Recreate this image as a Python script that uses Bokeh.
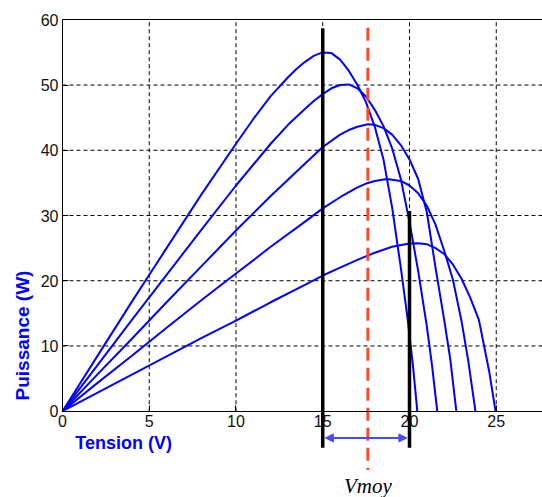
from bokeh.plotting import figure
from bokeh.models import Range1d, FixedTicker, LinearAxis, Label, Arrow, NormalHead
from bokeh.embed import file_html
from bokeh.resources import INLINE

# ---- data ----
x_ticks = [0, 5, 10, 15, 20, 25]
y_ticks = [0, 10, 20, 30, 40, 50, 60]

A_v = [0, 2, 4, 6, 8, 10, 11, 12, 13, 13.5, 14, 14.5, 15, 15.5, 16, 16.5, 17, 17.5, 18, 18.5, 19, 19.5, 19.9, 20.2, 20.45]
A_p = [0, 8.4, 16.8, 25, 33.2, 41, 44.8, 48.3, 51.2, 52.5, 53.6, 54.5, 55, 54.9, 53.9, 52.2, 50, 47.3, 43.6, 38.6, 31.2, 22, 14, 7, 0]

B_v = [0, 2, 4, 6, 8, 10, 12, 13, 14, 14.5, 15, 15.5, 16, 16.5, 17, 17.5, 18, 18.5, 19, 19.5, 20, 20.5, 21, 21.3, 21.6]
B_p = [0, 7, 14, 20.9, 27.8, 34.6, 41, 43.9, 46.4, 47.6, 48.6, 49.5, 50, 50.1, 49.5, 48.2, 46.2, 43.7, 40.3, 35.6, 29, 21.5, 13, 7, 0]

C_v = [0, 2, 4, 6, 8, 10, 12, 14, 15, 16, 16.5, 17, 17.6, 18, 18.5, 19, 19.5, 20, 20.5, 21, 21.5, 22, 22.35, 22.7]
C_p = [0, 5.6, 11.1, 16.7, 22.2, 27.7, 33, 38, 40.5, 42.4, 43.1, 43.6, 44, 43.9, 43.4, 42.4, 40.8, 38.6, 35.6, 30.5, 22, 14, 8, 0]

D_v = [0, 2, 4, 6, 8, 10, 12, 14, 15, 16, 17, 17.5, 18, 18.7, 19.5, 20, 20.5, 21, 21.5, 22, 22.5, 23, 23.4, 23.8]
D_p = [0, 4.3, 8.5, 12.8, 17, 21.1, 25.2, 29.1, 31.1, 32.8, 34.3, 34.9, 35.3, 35.6, 35.3, 34.6, 33.4, 31.5, 28.6, 24.6, 20.2, 13.8, 7.5, 0]

E_v = [0, 2, 4, 6, 8, 10, 12, 14, 15, 16, 17, 18, 19, 20, 20.5, 21, 21.5, 22, 22.5, 23, 23.5, 24, 24.3, 24.6, 24.96]
E_p = [0, 2.8, 5.6, 8.4, 11.2, 13.9, 16.7, 19.4, 20.8, 22, 23.2, 24.3, 25.2, 25.7, 25.75, 25.6, 25, 24.1, 22.5, 20.3, 17.4, 14, 10, 6, 0]

curves = [(A_v, A_p), (B_v, B_p), (C_v, C_p), (D_v, D_p), (E_v, E_p)]

v_limits = [15, 20]             # band limits (black lines)
v_limit_tops = [58.7, 30.7]
v_moy = 17.6                    # red dashed line
line_bottom = -5.6
arrow_y = -4.1
red_top, red_bottom = 58.8, -9.0

x_label = "Tension (V)"
y_label = "Puissance (W)"
moy_label = "Vmoy"

X_MIN, X_MAX = -3.573, 27.666
Y_MIN, Y_MAX = -13.23, 62.96

# ---- figure ----
p = figure(width=542, height=497, output_backend="svg", toolbar_location=None,
           x_range=Range1d(X_MIN, X_MAX), y_range=Range1d(Y_MIN, Y_MAX),
           x_axis_location=None, y_axis_location=None, min_border=0)
p.outline_line_color = None
p.xgrid.visible = False
p.ygrid.visible = False

def style_axis(ax):
    ax.major_tick_in = 6
    ax.major_tick_out = 0
    ax.minor_tick_in = 0
    ax.minor_tick_out = 0
    ax.minor_tick_line_color = None
    ax.axis_line_color = "black"
    ax.major_tick_line_color = "black"
    ax.major_label_text_font = "Liberation Sans"
    ax.major_label_text_font_size = "16px"
    ax.major_label_text_color = "#111111"
    ax.major_label_standoff = 4

xa = LinearAxis(fixed_location=0, bounds=(0, X_MAX), ticker=FixedTicker(ticks=x_ticks))
style_axis(xa)
p.add_layout(xa, "below")
ya = LinearAxis(fixed_location=0, bounds=(y_ticks[0], y_ticks[-1]), ticker=FixedTicker(ticks=y_ticks))
style_axis(ya)
p.add_layout(ya, "left")
ta = LinearAxis(fixed_location=y_ticks[-1], bounds=(0, X_MAX), ticker=FixedTicker(ticks=[]),
                major_label_text_font_size="0px")
style_axis(ta)
p.add_layout(ta, "above")

# dashed grid inside the axes box
gx = x_ticks[1:]
p.segment(x0=gx, y0=[y_ticks[0]] * len(gx), x1=gx, y1=[y_ticks[-1]] * len(gx),
          line_color="black", line_dash="4 3", line_width=1)
gy = y_ticks[1:-1]
p.segment(x0=[x_ticks[0]] * len(gy), y0=gy, x1=[X_MAX] * len(gy), y1=gy,
          line_color="black", line_dash="4 3", line_width=1)

for v, pw in curves:
    p.line(v, pw, line_color="#0000ff", line_width=2)

# black limit lines
p.segment(x0=v_limits, y0=v_limit_tops, x1=v_limits, y1=[line_bottom] * 2,
          line_color="black", line_width=3.5)
# red dashed mean line
p.segment(x0=[v_moy], y0=[red_top], x1=[v_moy], y1=[red_bottom],
          line_color="#ff4a2a", line_width=3, line_dash="13 7")
# double arrow
p.add_layout(Arrow(x_start=v_limits[0] + 0.15, y_start=arrow_y, x_end=v_limits[1] - 0.15, y_end=arrow_y,
                   line_color="#4a4aff", line_width=2,
                   start=NormalHead(size=8, fill_color="#4a4aff", line_color="#4a4aff"),
                   end=NormalHead(size=8, fill_color="#4a4aff", line_color="#4a4aff")))

p.add_layout(Label(x=3.52, y=-4.95, text=x_label, text_font="Liberation Sans",
                   text_font_style="bold", text_font_size="18px", text_color="#0000ff",
                   text_align="center", text_baseline="middle"))
p.add_layout(Label(x=-2.3, y=11.6, text=y_label, text_font="Liberation Sans",
                   text_font_style="bold", text_font_size="19px", text_color="#0000ff",
                   text_align="center", text_baseline="middle", angle=1.5707963))
p.add_layout(Label(x=v_moy, y=-9.6, text=moy_label, text_font="Liberation Serif",
                   text_font_style="italic", text_font_size="21px", text_color="black",
                   text_align="center", text_baseline="top"))

open("out.html", "w").write(file_html(p, INLINE))
